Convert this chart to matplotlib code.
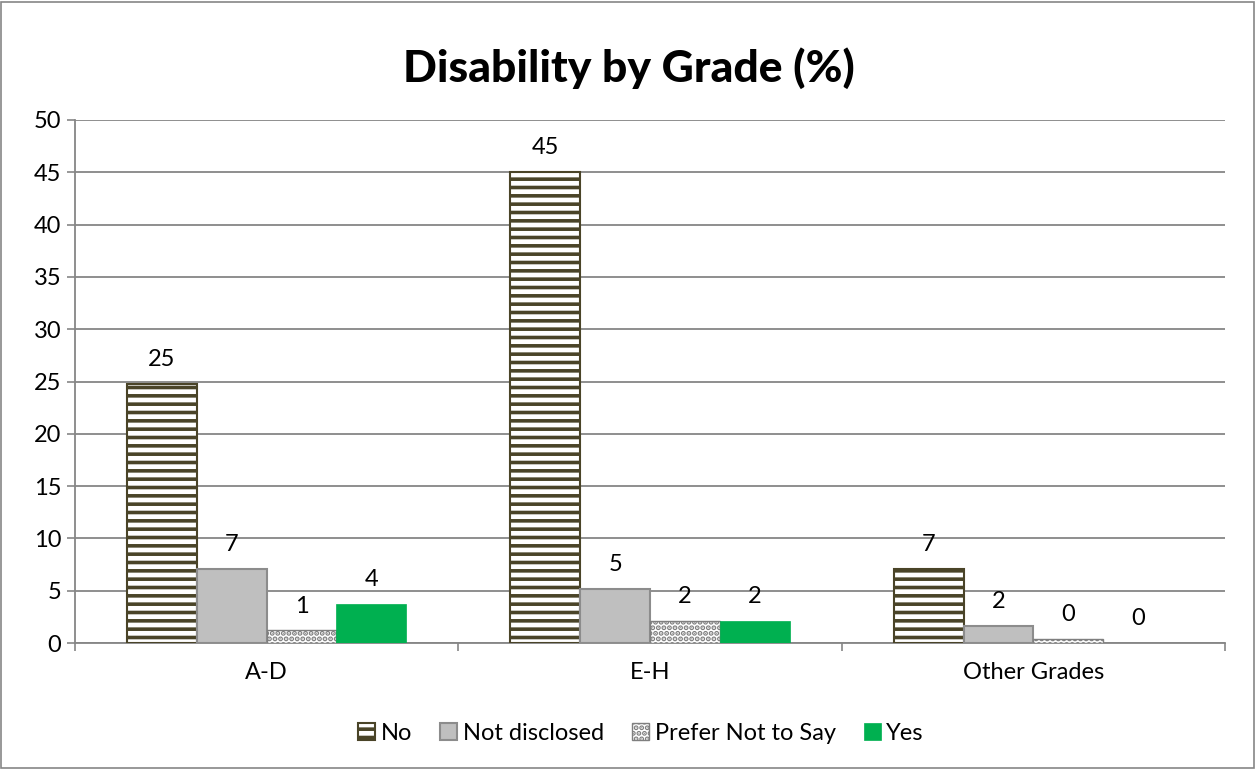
import numpy as np
import matplotlib
matplotlib.use("Agg")
from matplotlib import pyplot as plt
from matplotlib.patches import Rectangle

categories = ["A-D", "E-H", "Other Grades"]
series = ["No", "Not disclosed", "Prefer Not to Say", "Yes"]
no_vals = [24.8, 45.0, 7.1]
nd_vals = [7.1, 5.2, 1.6]
pref_vals = [1.2, 2.1, 0.4]
yes_vals = [3.7, 2.1, 0.0]

plt.rcParams['font.family'] = ['Lato', 'DejaVu Sans']
plt.rcParams['hatch.linewidth'] = 2.6

fig = plt.figure(figsize=(12.57, 7.69), dpi=100)
ax = fig.add_axes([75/1257, 1 - 643/769, 1150/1257, 523/769])

x = np.arange(len(categories))
w = 0.182
fs = 17
styles = [
    dict(facecolor="white", edgecolor="#4a4428", hatch="--", linewidth=1.5),
    dict(facecolor="#bfbfbf", edgecolor="#8c8c8c", linewidth=1.5),
    dict(facecolor="white", edgecolor="#7f7f7f", hatch="...", linewidth=1.0),
    dict(facecolor="#00b050", edgecolor="#00b050", linewidth=0.5),
]
allvals = [no_vals, nd_vals, pref_vals, yes_vals]
for i, (name, vals, st) in enumerate(zip(series, allvals, styles)):
    pos = x + (i - 1.5) * w
    ax.bar(pos, vals, width=w, label=name, zorder=3, **st)
    for p, v in zip(pos, vals):
        ax.annotate(f"{v:.0f}", (p, v), xytext=(0, 10), textcoords="offset points",
                    ha="center", va="bottom", fontsize=fs)

ax.set_xlim(-0.5, 2.5)
ax.set_ylim(0, 50)
ax.set_yticks(range(0, 51, 5))
ax.set_xticks(x)
ax.set_xticklabels(categories)
ax.set_xticks([-0.5, 0.5, 1.5, 2.5], minor=True)
ax.tick_params(axis="x", which="major", length=0, labelsize=fs, pad=14)
ax.tick_params(axis="x", which="minor", length=6, color="#868686", width=1.2)
ax.tick_params(axis="y", length=6, color="#868686", width=1.2, labelsize=fs, pad=4)
ax.grid(axis="y", color="#868686", linewidth=1.3, zorder=0)
ax.set_axisbelow(True)
for s in ["top", "right"]:
    ax.spines[s].set_visible(False)
for s in ["left", "bottom"]:
    ax.spines[s].set_color("#868686")
    ax.spines[s].set_linewidth(1.3)

fig.text(0.5, 1 - 68/769, "Disability by Grade (%)", ha="center", va="center",
         fontsize=32, fontweight="black")

leg = fig.legend(loc="center", bbox_to_anchor=(0.51, 1 - 733/769), ncol=4, frameon=False,
                 fontsize=fs, handlelength=0.7, handleheight=0.7, handletextpad=0.25,
                 columnspacing=1.2)

fig.patches.append(Rectangle((0.001, 0.001), 0.997, 0.997, transform=fig.transFigure,
                             fill=False, edgecolor="#868686", linewidth=1.2))

fig.savefig("out.png", dpi=100)
